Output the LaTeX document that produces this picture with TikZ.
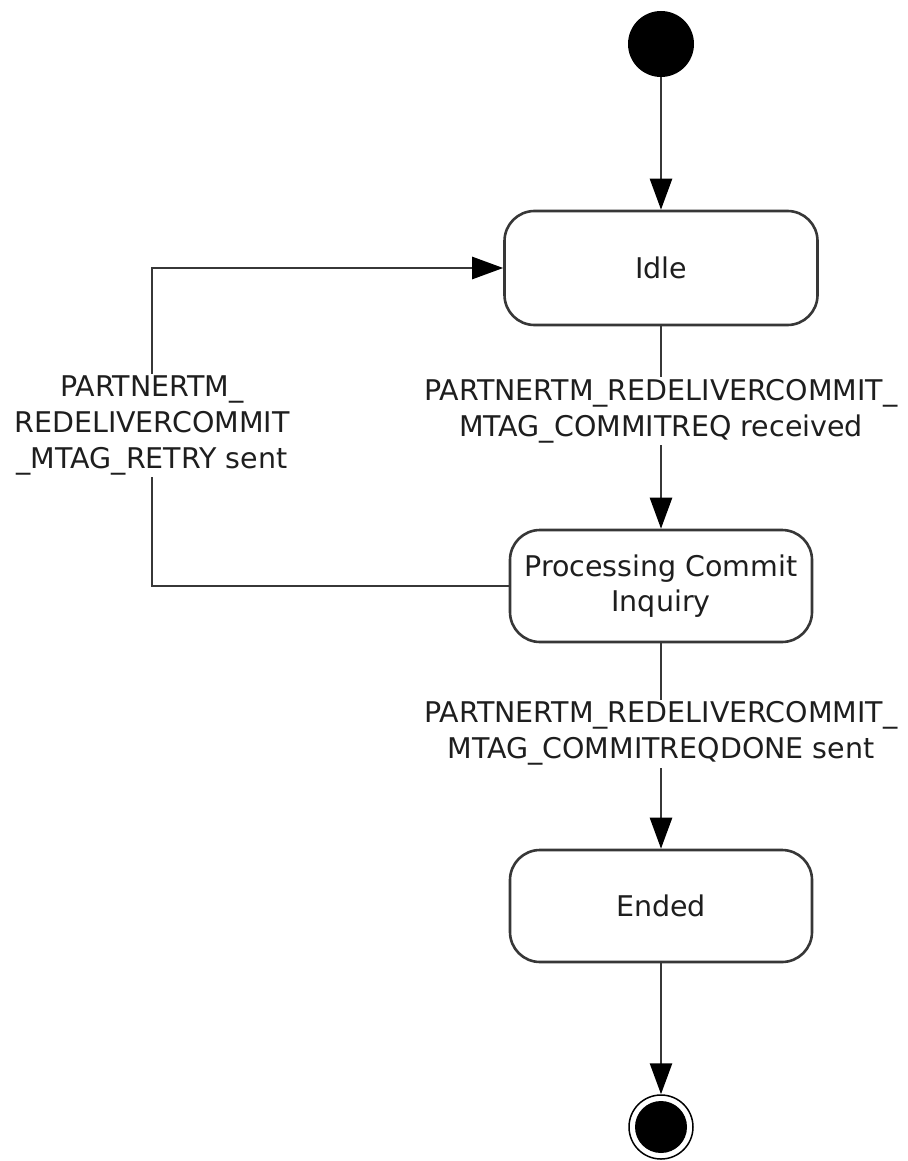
\documentclass[tikz,border=0pt]{standalone}
\usepackage{fontspec}
\setmainfont{DejaVu Sans}
\usetikzlibrary{arrows.meta}
\definecolor{ln}{RGB}{55,55,55}
\definecolor{tx}{RGB}{30,30,30}
\tikzset{
  state/.style={draw=ln, line width=2.6pt, rounded corners=30pt, fill=white, minimum height=112pt, align=center, text=tx, font=\fontsize{28.5}{35}\selectfont},
  lbl/.style={fill=white, align=center, text=tx, inner sep=2pt, font=\fontsize{28.5}{36}\selectfont},
  conn/.style={draw=ln, line width=2.6pt, -{Triangle[length=31pt,width=22pt,color=black]}},
}
\begin{document}
\begin{tikzpicture}[x=1pt,y=-1pt]
\useasboundingbox (0,0) rectangle (907,1161);
\node[circle, fill=black, minimum size=66pt, inner sep=0pt] (init) at (661,44) {};
\node[state, minimum width=313pt, minimum height=114pt] (idle) at (661,268) {Idle};
\node[state, minimum width=302pt] (proc) at (661,586) {Processing Commit\\Inquiry};
\node[state, minimum width=302pt] (ended) at (661,906) {Ended};
\node[circle, draw=black, line width=1.5pt, minimum size=64pt, inner sep=0pt] (final) at (661,1127) {};
\node[circle, fill=black, minimum size=52pt, inner sep=0pt] (finalin) at (661,1127) {};
\coordinate (lb) at (152,586);
\coordinate (lt) at (152,268);

\draw[conn] (init) -- (idle);
\draw[conn] (idle) -- node[lbl, pos=0.42] {PARTNERTM\_REDELIVERCOMMIT\_\\MTAG\_COMMITREQ received} (proc);
\draw[conn] (proc) -- node[lbl, pos=0.44] {PARTNERTM\_REDELIVERCOMMIT\_\\MTAG\_COMMITREQDONE sent} (ended);
\draw[conn] (ended) -- (final);
\draw[conn] (proc.west) -- (lb) -- node[lbl, pos=0.505] {PARTNERTM\_\\REDELIVERCOMMIT\\\_MTAG\_RETRY sent} (lt) -- (idle.west);
\end{tikzpicture}
\end{document}
